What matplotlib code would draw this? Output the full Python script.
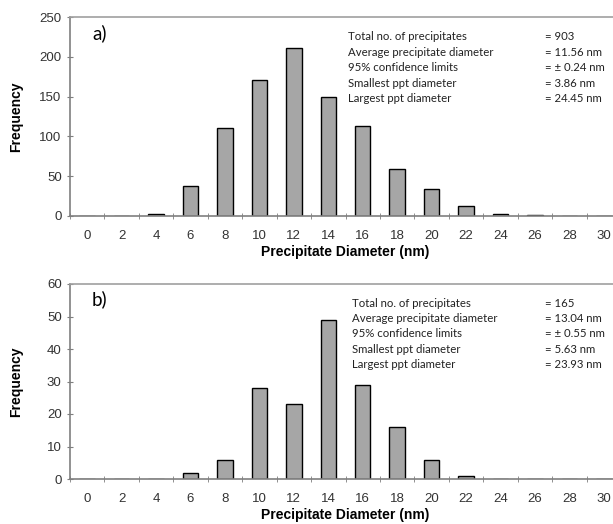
import numpy as np
import matplotlib.pyplot as plt

diameters = [0, 2, 4, 6, 8, 10, 12, 14, 16, 18, 20, 22, 24, 26, 28, 30]
freq_a = [0, 0, 2, 38, 110, 171, 211, 149, 113, 59, 34, 13, 2, 1, 0, 0]
freq_b = [0, 0, 0, 2, 6, 28, 23, 49, 29, 16, 6, 1, 0, 0, 0, 0]

stat_names = ["Total no. of precipitates", "Average precipitate diameter",
              "95% confidence limits", "Smallest ppt diameter", "Largest ppt diameter"]
stats_a = ["= 903", "= 11.56 nm", "= \u00b1 0.24 nm", "= 3.86 nm", "= 24.45 nm"]
stats_b = ["= 165", "= 13.04 nm", "= \u00b1 0.55 nm", "= 5.63 nm", "= 23.93 nm"]

plt.rcParams['font.family'] = ['Liberation Sans', 'DejaVu Sans']

fig = plt.figure(figsize=(6.13, 5.24), dpi=100)
ax_a = fig.add_axes([70/613, 308/524, 551/613, 199/524])
ax_b = fig.add_axes([70/613, 45/524, 551/613, 195/524])

spine_col = '#7f7f7f'


def draw(ax, freq, ymax, ystep, tag, stats, tx, ty):
    x = np.arange(len(diameters))
    ax.bar(x, freq, width=0.45, color='#a6a6a6', edgecolor='black', linewidth=1.0, zorder=2)
    ax.set_xlim(-0.5, len(diameters) - 0.5)
    ax.set_ylim(0, ymax)
    ax.set_yticks(np.arange(0, ymax + 1, ystep))
    ax.set_xticks(x)
    ax.set_xticklabels([str(d) for d in diameters])
    ax.set_xticks(np.arange(-0.5, len(diameters), 1), minor=True)
    ax.tick_params(axis='x', which='major', length=0, pad=10, labelsize=9.5, colors='#333333')
    ax.tick_params(axis='x', which='minor', length=5, direction='inout', color=spine_col)
    ax.tick_params(axis='y', length=4, direction='inout', color=spine_col, labelsize=9.5,
                   labelcolor='#333333', pad=4)
    for s in ['left', 'bottom', 'top']:
        ax.spines[s].set_color(spine_col)
        ax.spines[s].set_linewidth(1.2)
        ax.spines[s].set_zorder(3)
    ax.spines['top'].set_color('#a0a0a0')
    ax.spines['right'].set_visible(False)
    ax.set_xlabel('Precipitate Diameter (nm)', fontsize=10, fontweight='bold', labelpad=2)
    ax.set_ylabel('Frequency', fontsize=10, fontweight='bold')
    ax.yaxis.set_label_coords(-0.085, 0.5)
    ax.text(0.04, 0.89, tag, transform=ax.transAxes, fontsize=13.5, family='Lato')
    for i, (n, v) in enumerate(zip(stat_names, stats)):
        yy = ty - i * 0.078
        ax.text(tx, yy, n, transform=ax.transAxes, fontsize=8.2, family='Lato',
                va='center', color='#222222')
        ax.text(0.862, yy, v, transform=ax.transAxes, fontsize=8.2, family='Lato',
                va='center', color='#222222')


draw(ax_a, freq_a, 250, 50, 'a)', stats_a, 0.505, 0.9)
draw(ax_b, freq_b, 60, 10, 'b)', stats_b, 0.512, 0.9)

fig.savefig('out.png', dpi=100)
